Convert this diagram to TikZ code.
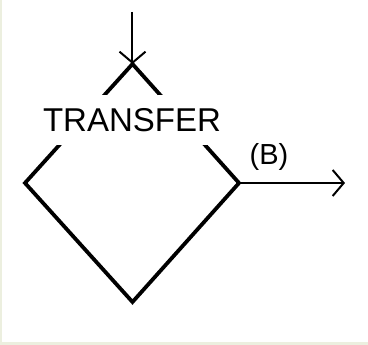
\documentclass[tikz,border=0pt]{standalone}
\usepackage{fontspec}
\setmainfont{Liberation Sans}
\usetikzlibrary{arrows.meta}
\definecolor{frame}{HTML}{ECEFDF}
\tikzset{
  thick line/.style={line width=3.8pt, line join=miter, line cap=butt},
  thin line/.style={line width=2pt},
  open tip/.style={-{Straight Barb[length=11pt,width=26pt,line width=2pt]}},
  label text/.style={font=\fontsize{33}{33}\selectfont, inner sep=0pt},
}
\begin{document}
\begin{tikzpicture}[x=1pt,y=-1pt]
\useasboundingbox (0,0) rectangle (368,345);
\fill[frame] (0,0) rectangle (368,345);
\fill[white] (2.5,0) rectangle (368,342);
% diamond vertices
\coordinate (top) at (132.5,64);
\coordinate (left) at (25,183);
\coordinate (bottom) at (132.5,302);
\coordinate (right) at (239,183);
\coordinate (in) at (132.5,12);
\coordinate (out) at (345,183);
\draw[thick line] (top) -- (left) -- (bottom) -- (right) -- cycle;
\node[label text, fill=white, minimum width=186pt, minimum height=50pt] (title) at (132,120) {TRANSFER};
\draw[thin line, open tip] (in) -- (top);
\draw[thin line, open tip] (right) -- (out);
\node[font=\fontsize{29}{29}\selectfont, inner sep=0pt] (blabel) at (269,157) {(B)};
\end{tikzpicture}
\end{document}
